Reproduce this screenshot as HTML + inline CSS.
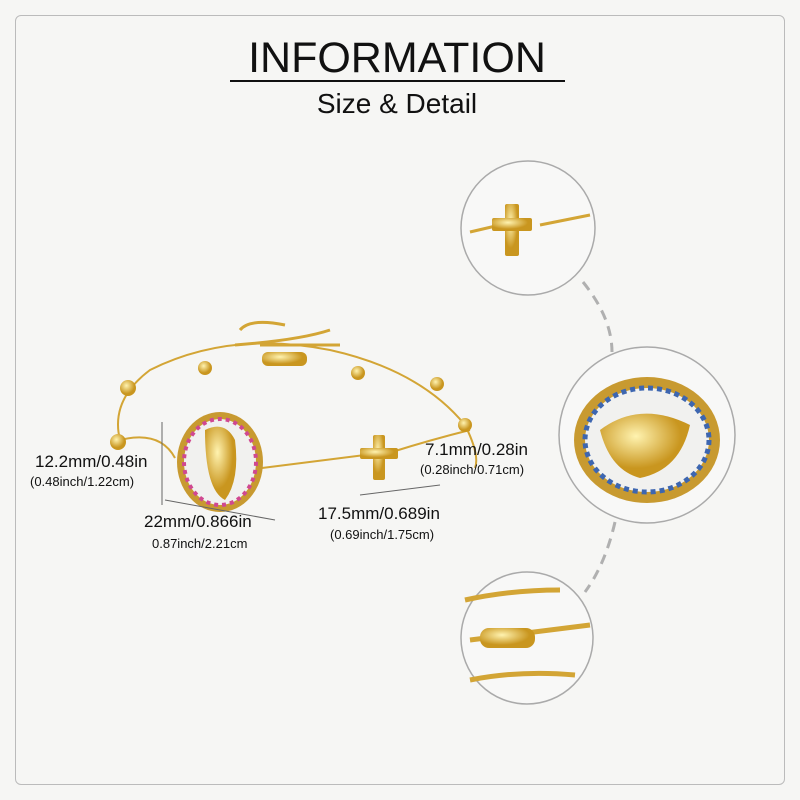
<!DOCTYPE html>
<html><head><meta charset="utf-8"><style>
html,body{margin:0;padding:0;width:800px;height:800px;background:#f6f6f4;overflow:hidden;font-family:"Liberation Sans",sans-serif;color:#111}
.t{position:absolute;white-space:nowrap}
</style></head><body>
<div style="position:absolute;left:15px;top:15px;width:768px;height:768px;border:1px solid #bbb;border-radius:6px"></div>
<div class="t" style="left:0;width:794px;text-align:center;top:34px;font-size:43px;letter-spacing:0px">INFORMATION</div>
<div style="position:absolute;left:230px;top:80px;width:335px;height:2px;background:#111"></div>
<div class="t" style="left:0;width:794px;text-align:center;top:88px;font-size:28px">Size &amp; Detail</div>
<svg width="800" height="800" style="position:absolute;left:0;top:0">
<defs><radialGradient id="g" cx="40%" cy="35%"><stop offset="0" stop-color="#fff3b0"/><stop offset="1" stop-color="#c9961f"/></radialGradient></defs>
<path d="M583,282 Q612,318 612,352" fill="none" stroke="#b0b0b0" stroke-width="3" stroke-dasharray="10,7"/>
<path d="M615,522 Q605,565 585,592" fill="none" stroke="#b0b0b0" stroke-width="3" stroke-dasharray="10,7"/>
<circle cx="528" cy="228" r="67" fill="#f8f8f7" stroke="#aaa" stroke-width="1.5"/>
<circle cx="647" cy="435" r="88" fill="#f8f8f7" stroke="#aaa" stroke-width="1.5"/>
<circle cx="527" cy="638" r="66" fill="#f8f8f7" stroke="#aaa" stroke-width="1.5"/>
<path d="M470,232 L500,225 M540,225 L590,215" stroke="#d3a535" stroke-width="3" fill="none"/>
<rect x="505" y="204" width="14" height="52" rx="2" fill="url(#g)"/>
<rect x="492" y="218" width="40" height="13" rx="2" fill="url(#g)"/>
<ellipse cx="647" cy="440" rx="73" ry="63" fill="#c89a30"/>
<ellipse cx="647" cy="440" rx="62" ry="52" fill="#f1f1ef" stroke="#3d66b0" stroke-width="5" stroke-dasharray="5,4"/>
<path d="M600,430 Q640,400 690,425 Q680,470 640,478 Q610,470 600,430Z" fill="url(#g)"/>
<path d="M465,600 Q510,590 560,590 M470,640 L590,625 M470,680 Q520,670 575,675" stroke="#d3a535" stroke-width="5" fill="none"/>
<rect x="480" y="628" width="55" height="20" rx="9" fill="url(#g)"/>
<path d="M175,458 Q160,430 120,440 Q110,400 150,370 Q230,330 330,350 Q420,370 465,425 Q480,455 475,468 M262,468 Q310,462 365,455 M392,452 Q430,440 470,430" stroke="#d3a535" stroke-width="2" fill="none"/>
<g fill="url(#g)">
<circle cx="128" cy="388" r="8"/><circle cx="118" cy="442" r="8"/><circle cx="205" cy="368" r="7"/><circle cx="358" cy="373" r="7"/><circle cx="437" cy="384" r="7"/><circle cx="465" cy="425" r="7"/>
</g>
<path d="M240,330 Q250,318 285,325 M235,345 Q300,340 330,330 M260,345 L340,345" stroke="#d3a535" stroke-width="3" fill="none"/>
<rect x="262" y="352" width="45" height="14" rx="6" fill="url(#g)"/>
<ellipse cx="220" cy="462" rx="43" ry="50" fill="#c89a30"/>
<ellipse cx="220" cy="462" rx="36" ry="43" fill="#f1f1ef" stroke="#d04890" stroke-width="4" stroke-dasharray="4,4"/>
<path d="M205,430 Q225,420 235,440 Q240,480 225,500 Q205,490 205,430Z" fill="url(#g)"/>
<rect x="373" y="435" width="12" height="45" rx="2" fill="url(#g)"/>
<rect x="360" y="448" width="38" height="11" rx="2" fill="url(#g)"/>
<path d="M162,422 L162,505" stroke="#666" stroke-width="1"/>
<path d="M165,500 L275,520" stroke="#666" stroke-width="1"/>
<path d="M360,495 L440,485" stroke="#666" stroke-width="1"/>
</svg>
<div class="t" style="left:35px;top:452px;font-size:17px">12.2mm/0.48in</div>
<div class="t" style="left:30px;top:474px;font-size:13px">(0.48inch/1.22cm)</div>
<div class="t" style="left:144px;top:512px;font-size:17px">22mm/0.866in</div>
<div class="t" style="left:152px;top:536px;font-size:13px">0.87inch/2.21cm</div>
<div class="t" style="left:425px;top:440px;font-size:17px">7.1mm/0.28in</div>
<div class="t" style="left:420px;top:462px;font-size:13px">(0.28inch/0.71cm)</div>
<div class="t" style="left:318px;top:504px;font-size:17px">17.5mm/0.689in</div>
<div class="t" style="left:330px;top:527px;font-size:13px">(0.69inch/1.75cm)</div>
</body></html>
